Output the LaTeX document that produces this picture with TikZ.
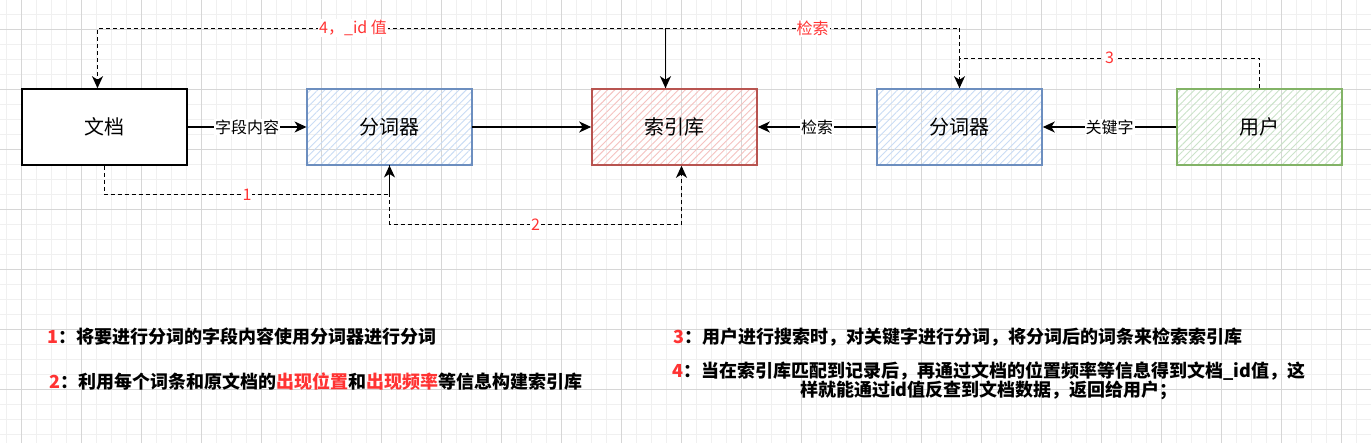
\documentclass[tikz,border=0pt]{standalone}
\usepackage{fontspec}
\setmainfont{Noto Sans CJK SC}
\usetikzlibrary{arrows.meta,patterns.meta}
\definecolor{blueline}{HTML}{6C8EBF}
\definecolor{bluefill}{HTML}{C9DCF5}
\definecolor{redline}{HTML}{B85450}
\definecolor{redfill}{HTML}{F5C2C0}
\definecolor{greenline}{HTML}{82B366}
\definecolor{greenfill}{HTML}{CBE3C9}
\definecolor{notered}{HTML}{FF3333}
\definecolor{gridminor}{HTML}{F0F0F0}
\definecolor{gridmajor}{HTML}{D6D6D6}

\tikzset{
  box/.style={draw, line width=1.6pt, minimum width=165pt, minimum height=76pt, font=\fontsize{20}{24}\selectfont},
  hatched/.style 2 args={box, draw=#1, pattern={Lines[angle=45,distance=5pt,line width=0.9pt]}, pattern color=#2},
  lab/.style={fill=white, inner sep=1pt, font=\fontsize{16}{18}\selectfont},
  redlab/.style={lab, text=notered},
  dline/.style={dash pattern=on 4pt off 3pt, line width=1.3pt},
  note/.style={anchor=west, font=\fontsize{18}{19}\selectfont\bfseries},
}

\begin{document}
\begin{tikzpicture}[x=1pt,y=-1pt,>={Stealth[length=12pt,width=11pt,inset=3.5pt]},node distance=285pt]
  \useasboundingbox (0,0) rectangle (1371,443);
  \fill[white] (0,0) rectangle (1371,443);
  % grid
  \foreach \x in {6.7,21.7,...,1371} \draw[gridminor,line width=0.8pt] (\x,0) -- (\x,443);
  \foreach \y in {14.3,29.3,...,443} \draw[gridminor,line width=0.8pt] (0,\y) -- (1371,\y);
  \foreach \x in {21.7,81.7,...,1371} \draw[gridmajor,line width=0.8pt] (\x,0) -- (\x,443);
  \foreach \y in {29.3,89.3,...,443} \draw[gridmajor,line width=0.8pt] (0,\y) -- (1371,\y);

  \node [box, fill=white] (doc) at (104.5,127) {文档};
  \node [hatched={blueline}{bluefill}, right of=doc] (tok1) {分词器};
  \node [hatched={redline}{redfill}, right of=tok1] (idx) {索引库};
  \node [hatched={blueline}{bluefill}, right of=idx] (tok2) {分词器};
  \node [hatched={greenline}{greenfill}, right of=tok2, xshift=15pt] (user) {用户};

  \draw[->, line width=1.3pt] (doc) -- node [lab] {字段内容} (tok1);
  \draw[->, line width=1.3pt] (tok1) -- (idx);
  \draw[->, line width=1.3pt] (tok2) -- node [lab] {检索} (idx);
  \draw[->, line width=1.3pt] (user) -- node [lab] {关键字} (tok2);

  \draw[->, dline] (doc.south) -- ++(0,29) -| node [redlab, pos=0.25] {1} (tok1.south);
  \draw[->, dline] (tok1.south) -- ++(0,59) -| node [redlab, pos=0.25] {2} ([xshift=7pt]idx.south);
  \draw[->, dline] (user.north) -- ++(0,-30) -| node [redlab, pos=0.25] {3} (tok2.north);
  \draw[->, dline] (tok2.north) -- ++(0,-60) -| node [redlab, pos=0.25] {检索} ([xshift=-9pt]idx.north);
  \draw[->, dline] ([xshift=-9pt]idx.north) -- ++(0,-60) -| node [redlab, pos=0.275] {4，\_id 值} ([xshift=-7pt]doc.north);

  \node [note] (n1) at (44,337) {\textcolor{notered}{1}：将要进行分词的字段内容使用分词器进行分词};
  \node [note] (n2) at (46,382) {\textcolor{notered}{2}：利用每个词条和原文档的\textcolor{notered}{出现位置}和\textcolor{notered}{出现频率}等信息构建索引库};
  \node [note] (n3) at (670,337) {\textcolor{notered}{3}：用户进行搜索时，对关键字进行分词，将分词后的词条来检索索引库};
  \node [note, anchor=center, align=center] (n4) at (989,381) {\textcolor{notered}{4}：当在索引库匹配到记录后，再通过文档的位置频率等信息得到文档\_id值，这\\样就能通过id值反查到文档数据，返回给用户；};
\end{tikzpicture}
\end{document}
